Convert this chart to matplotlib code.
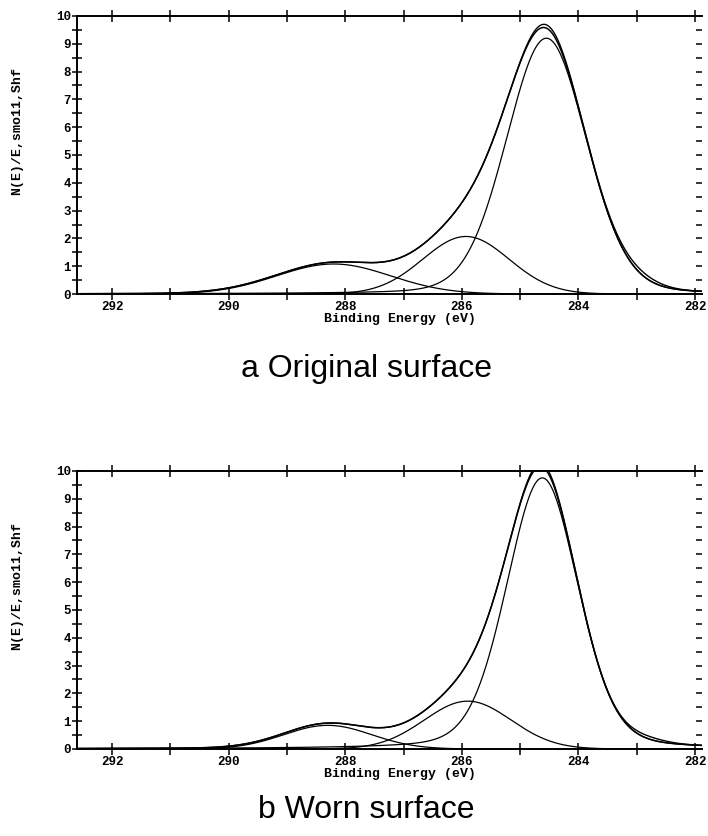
import numpy as np
import matplotlib
matplotlib.use("Agg")
import matplotlib.pyplot as plt
from matplotlib.ticker import MultipleLocator, FixedLocator, NullFormatter

# C 1s peak fits
# each component: centre (eV), height, FWHM (eV), lorentzian fraction
orig_centres = [284.55, 285.93, 288.2]
orig_heights = [9.2, 2.07, 1.08]
orig_fwhm = [1.62, 1.74, 2.3]
orig_mix = [0.12, 0.0, 0.0]
# small misfit between measured spectrum and fitted envelope
orig_resid_centres = [284.5, 283.0]
orig_resid_heights = [0.12, 0.14]
orig_resid_fwhm = [0.7, 0.9]

worn_centres = [284.62, 285.9, 288.3]
worn_heights = [9.75, 1.72, 0.85]
worn_fwhm = [1.45, 1.75, 1.77]
worn_mix = [0.2, 0.0, 0.0]
worn_resid_centres = [284.6, 282.85]
worn_resid_heights = [0.1, 0.1]
worn_resid_fwhm = [0.7, 0.8]

captions = ["a Original surface", "b Worn surface"]
y_label = "N(E)/E,smo11,Shf"
x_label = "Binding Energy (eV)"
x_ticklabels = [292, 290, 288, 286, 284, 282]
y_ticklabels = list(range(0, 11))


def gl(x, c, h, w, m):
    d2 = 4.0 * (x - c) ** 2 / w ** 2
    return h * ((1 - m) * np.exp(-np.log(2) * d2) + m / (1 + d2))


mono = {"family": "Liberation Mono", "weight": "bold"}

fig = plt.figure(figsize=(7.08, 8.36), dpi=100)
x = np.linspace(292.6, 281.88, 1200)

panels = [
    (0.6483, orig_centres, orig_heights, orig_fwhm, orig_mix,
     orig_resid_centres, orig_resid_heights, orig_resid_fwhm, 0.559),
    (0.1041, worn_centres, worn_heights, worn_fwhm, worn_mix,
     worn_resid_centres, worn_resid_heights, worn_resid_fwhm, 0.031),
]

for i, (bottom, cs, hs, ws, ms, rc, rh, rw, cap_y) in enumerate(panels):
    ax = fig.add_axes([0.1088, bottom, 0.8828, 0.3326])
    comps = [gl(x, c, h, w, m) for c, h, w, m in zip(cs, hs, ws, ms)]
    env = np.sum(comps, axis=0)
    resid = np.sum([gl(x, c, h, w, 0) for c, h, w in zip(rc, rh, rw)], axis=0)
    for comp in comps:
        ax.plot(x, comp, color="black", lw=0.9)
    ax.plot(x, env, color="black", lw=1.1)
    ax.plot(x, env + resid, color="black", lw=1.0)

    ax.set_xlim(292.6, 281.88)
    ax.set_ylim(0, 10)
    ax.spines["right"].set_visible(False)
    for s in ["left", "bottom", "top"]:
        ax.spines[s].set_linewidth(1.4)

    ax.xaxis.set_major_locator(FixedLocator(x_ticklabels))
    ax.xaxis.set_minor_locator(MultipleLocator(1))
    ax.set_xticklabels([str(v) for v in x_ticklabels], fontdict=mono, fontsize=9)
    ax.tick_params(axis="x", which="both", direction="inout", length=8, width=1.1,
                   top=True, pad=1)

    ax.yaxis.set_major_locator(FixedLocator(y_ticklabels))
    ax.yaxis.set_minor_locator(MultipleLocator(0.5))
    ax.set_yticklabels([str(v) for v in y_ticklabels], fontdict=mono, fontsize=9)
    ax.tick_params(axis="y", which="both", direction="inout", length=7, width=1.1,
                   right=False, pad=1)

    # short inward dashes on the right edge, no spine line
    sec = ax.secondary_yaxis("right")
    sec.spines["right"].set_visible(False)
    sec.yaxis.set_major_locator(FixedLocator(np.arange(0.5, 10, 0.5)))
    sec.yaxis.set_major_formatter(NullFormatter())
    sec.tick_params(direction="in", length=4, width=1.1)

    ax.set_xlabel(x_label, fontdict=mono, fontsize=9.5)
    ax.xaxis.set_label_coords(0.517, -0.068)
    ax.set_ylabel(y_label, fontdict=mono, fontsize=9.5)
    ax.yaxis.set_label_coords(-0.086, 0.585)

    fig.text(0.518, cap_y, captions[i], ha="center", va="center",
             family="Liberation Sans", fontsize=23)

fig.savefig("out.png", dpi=100, facecolor="white")
